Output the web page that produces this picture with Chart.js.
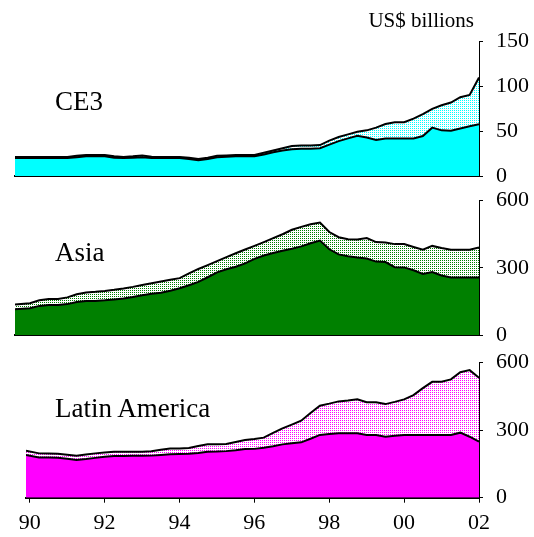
<!DOCTYPE html>
<html><head><meta charset="utf-8">
<script src="https://cdn.jsdelivr.net/npm/chart.js@4"></script>
<style>
html,body{margin:0;padding:0;background:#fff;}
#wrap{position:relative;width:534px;height:537px;overflow:hidden;font-family:"Liberation Serif","Times New Roman",serif;color:#000;background:#fff;}
canvas{position:absolute;left:0;top:0;}
.lbl{position:absolute;white-space:nowrap;}
</style></head><body>
<div id="wrap">
<canvas id="c1" width="534" height="537"></canvas>
<canvas id="c2" width="534" height="537"></canvas>
<canvas id="c3" width="534" height="537"></canvas>
<div class="lbl" style="right:60px;top:10px;font-size:21px;line-height:21px;">US$ billions</div>
<div class="lbl" style="left:55px;top:88px;font-size:27px;line-height:27px;">CE3</div>
<div class="lbl" style="left:55px;top:239px;font-size:27px;line-height:27px;">Asia</div>
<div class="lbl" style="left:55px;top:395px;font-size:27px;line-height:27px;">Latin America</div>
</div>
<script>
// ---- data ----
const periods = [1989.6,
  1990,1990.25,1990.5,1990.75,1991,1991.25,1991.5,1991.75,1992,1992.25,1992.5,1992.75,
  1993,1993.25,1993.5,1993.75,1994,1994.25,1994.5,1994.75,1995,1995.25,1995.5,1995.75,
  1996,1996.25,1996.5,1996.75,1997,1997.25,1997.5,1997.75,1998,1998.25,1998.5,1998.75,
  1999,1999.25,1999.5,1999.75,2000,2000.25,2000.5,2000.75,2001,2001.25,2001.5,2001.75,2002];
const periodsLatAm = [1989.9,
  1990.25,1990.5,1990.75,1991,1991.25,1991.5,1991.75,1992,1992.25,1992.5,1992.75,
  1993,1993.25,1993.5,1993.75,1994,1994.25,1994.5,1994.75,1995,1995.25,1995.5,1995.75,
  1996,1996.25,1996.5,1996.75,1997,1997.25,1997.5,1997.75,1998,1998.25,1998.5,1998.75,
  1999,1999.25,1999.5,1999.75,2000,2000.25,2000.5,2000.75,2001,2001.25,2001.5,2001.75,2002];

const ce3Lower = [20,20,20,20,20,20,21,22,22,22,20.5,20,20.5,21,20,20,20,20,19,17.5,19,21,21.5,22,22,
  22,24,26.5,28.5,30,30.3,30.5,31,35,39,42,45,43,40.2,42,42,42,42,44.7,54,51,50.6,53,55.5,57.7];
const ce3Total = [21.3,21.3,21.3,21.3,21.3,21.3,22.5,23.5,23.5,23.5,22,21.3,22,23,21.5,21.3,21.3,21.3,20.3,19,20.5,22.5,23,23.5,23.5,
  23.5,26,28.5,31,33.5,34,34,34.5,39.5,43.5,46.5,49.5,51,54,58,60,60,64,69,75,79,82,88,90.5,110];

const asiaLower = [115,120,130,134,134,138,147,152,152,155,159,163,170,178,184,189,198,209,222,237,258,280,294,305,320,
  340,355,366,376,385,396,410,422,383,360,352,346,342,328,326,303,302,289,273,281,266,257,257,257,257];
const asiaTotal = [136,142,155,161,161,168,182,190,193,197,202,208,215,223,231,239,247,254,275,295,312,330,348,365,382,
  398,415,433,450,470,483,495,502,460,437,428,427,433,415,413,406,406,393,381,398,389,381,381,381,391];

const latamLower = [190,179,179,178,173,168,172,177,182,185,185,186,186,187,190,193,194,195,199,204,205,207,211,216,
  217,222,229,237,242,246,262,279,283,286,286,286,279,279,271,275,279,279,279,279,279,279,289,271,249];
const latamTotal = [209,197,196,195,191,187,192,197,201,204,204,204,204,206,213,219,219,221,230,238,238,239,248,256,
  261,267,288,308,325,342,376,409,418,428,432,437,424,424,416,426,437,456,487,515,515,526,558,567,533];

const tickYears = [1990,1992,1994,1996,1998,2000,2002];
const tickLabels = ["90","92","94","96","98","00","02"];
const ce3Ticks = [0,50,100,150];
const bigTicks = [0,300,600];

// ---- helpers ----
function pattern(color){
  const c=document.createElement('canvas'); c.width=2; c.height=2;
  const g=c.getContext('2d');
  g.fillStyle='#fff'; g.fillRect(0,0,2,2);
  g.fillStyle=color; g.fillRect(0,0,1,1);
  return g.createPattern(c,'repeat');
}
const FONT_FAMILY = '"Liberation Serif","Times New Roman",serif';

function makePanel(id, xs, lower, total, lowColor, patColor, yMax, yTicks, pad, showX, xMin){
  const pts = arr => arr.map((v,i)=>({x:xs[i], y:v}));
  return new Chart(document.getElementById(id), {
    type:'line',
    data:{datasets:[
      {data:pts(lower), borderColor:'#000', borderWidth:2, backgroundColor:lowColor, fill:'origin', pointRadius:0, tension:0},
      {data:pts(total), borderColor:'#000', borderWidth:2, backgroundColor:pattern(patColor), fill:'-1', pointRadius:0, tension:0}
    ]},
    options:{
      responsive:false, animation:false, events:[],
      layout:{padding:pad},
      plugins:{legend:{display:false}, tooltip:{enabled:false}, title:{display:false}},
      scales:{
        x:{type:'linear', min:xMin, max:2002, position:'bottom',
          afterBuildTicks:s=>{s.ticks=tickYears.map(v=>({value:v}));},
          afterFit:s=>{s.height = showX ? 39.3 : 0;},
          ticks:{display:showX, autoSkip:false, maxRotation:0, color:'#000', padding:7,
            font:{family:FONT_FAMILY, size:22},
            callback:(v)=>{const k=tickYears.indexOf(v); return k>=0?tickLabels[k]:'';}},
          grid:{display:true, drawOnChartArea:false, drawTicks:showX, tickLength:5, color:'#000', lineWidth:1},
          border:{display:true, color:'#000', width:2}
        },
        y:{type:'linear', position:'right', min:0, max:yMax,
          afterBuildTicks:s=>{s.ticks=yTicks.map(v=>({value:v}));},
          afterFit:s=>{s.width=55;},
          ticks:{color:'#000', padding:13, font:{family:FONT_FAMILY, size:22}},
          grid:{display:true, drawOnChartArea:false, drawTicks:true, tickLength:4, color:'#000', lineWidth:1},
          border:{display:true, color:'#000', width:1}
        }
      }
    }
  });
}

makePanel('c1', periods, ce3Lower, ce3Total, '#00FFFF', '#00FFFF', 150, ce3Ticks,
  {left:15, right:0, top:41.7, bottom:361}, false, 1989.6);
makePanel('c2', periods, asiaLower, asiaTotal, '#008000', '#008000', 600, bigTicks,
  {left:15, right:0, top:200.7, bottom:202}, false, 1989.6);
makePanel('c3', periodsLatAm, latamLower, latamTotal, '#FF00FF', '#FF00FF', 600, bigTicks,
  {left:26, right:0, top:362.7, bottom:0}, true, 1989.9);
</script>
</body></html>
